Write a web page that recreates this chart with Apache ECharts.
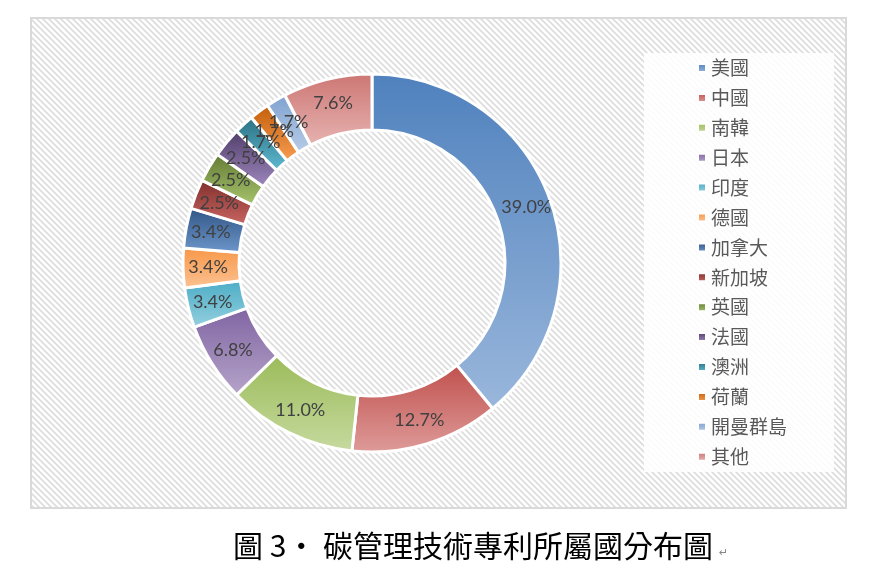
<!DOCTYPE html>
<html>
<head>
<meta charset="utf-8">
<script src="https://cdn.jsdelivr.net/npm/echarts@6/dist/echarts.min.js"></script>
<style>
  html, body { margin: 0; padding: 0; background: #fff; }
  #chart { width: 894px; height: 577px; }
</style>
</head>
<body>
<div id="chart"></div>
<script>
// patent counts per country (percent labels = count / total)
const countries = ['美國', '中國', '南韓', '日本', '印度', '德國', '加拿大', '新加坡', '英國', '法國', '澳洲', '荷蘭', '開曼群島', '其他'];
const counts = [46, 15, 13, 8, 4, 4, 4, 3, 3, 3, 2, 2, 2, 9];
const topColors = ['#4F81BD', '#C0504D', '#9BBB59', '#8064A2', '#4BACC6', '#F79646', '#2F5584', '#7E2E2C', '#627A33', '#4F3D68', '#2A6F82', '#C25E0A', '#7FA2D0', '#CC7673'];
const bottomColors = ['#9AB7DC', '#DE9C9A', '#C6DA9F', '#B6A5CA', '#95D0DF', '#FBC394', '#6E97CC', '#CB6763', '#A8C56E', '#9F88BF', '#5FBBD2', '#F89D52', '#B7CCE7', '#E7B3B1'];
const caption = '圖 3· 碳管理技術專利所屬國分布圖';

const total = counts.reduce((a, b) => a + b, 0);

// hatched background tile
const tile = document.createElement('canvas');
tile.width = 6; tile.height = 6;
const g = tile.getContext('2d');
g.fillStyle = '#ffffff';
g.fillRect(0, 0, 6, 6);
g.strokeStyle = '#dcdcdc';
g.lineWidth = 1.6;
g.beginPath();
g.moveTo(-3, -3); g.lineTo(9, 9);
g.moveTo(-3, 3); g.lineTo(3, 9);
g.moveTo(3, -3); g.lineTo(9, 3);
g.stroke();

const chart = echarts.init(document.getElementById('chart'));

const data = countries.map((name, i) => ({
  name: name,
  value: counts[i],
  itemStyle: {
    color: new echarts.graphic.LinearGradient(0, 0, 0, 1, [
      { offset: 0, color: topColors[i] },
      { offset: 1, color: bottomColors[i] }
    ])
  }
}));

chart.setOption({
  animation: false,
  graphic: [
    {
      type: 'rect',
      shape: { x: 31, y: 18, width: 815, height: 490 },
      style: { fill: { image: tile, repeat: 'repeat' }, stroke: '#d9d9d9', lineWidth: 2 },
      z: 0
    },
    {
      type: 'rect',
      shape: { x: 644, y: 53, width: 190, height: 419 },
      style: { fill: 'rgba(255,255,255,0.88)' },
      z: 1
    }
  ],
  title: {
    text: caption + '{r|↵}',
    left: 228,
    top: 526,
    textStyle: {
      fontFamily: 'Noto Sans CJK TC',
      fontWeight: 'normal',
      fontSize: 30,
      color: '#000',
      rich: {
        r: { fontSize: 11, color: '#888', padding: [14, 0, 0, 6], fontFamily: 'DejaVu Sans' }
      }
    }
  },
  legend: {
    orient: 'vertical',
    left: 692,
    top: 53,
    icon: 'rect',
    itemWidth: 8,
    itemHeight: 8,
    itemGap: 9.9,
    selectedMode: false,
    textStyle: {
      fontFamily: 'Noto Sans CJK TC',
      fontSize: 19,
      lineHeight: 20,
      color: '#595959'
    },
    data: countries
  },
  series: [{
    type: 'pie',
    center: [372, 263],
    radius: [133, 189],
    startAngle: 90,
    clockwise: true,
    avoidLabelOverlap: false,
    minShowLabelAngle: 0,
    itemStyle: { borderColor: '#ffffff', borderWidth: 3 },
    label: {
      show: true,
      position: 'inside',
      fontFamily: 'Lato',
      fontSize: 18,
      color: '#404040',
      formatter: p => (p.value / total * 100).toFixed(1) + '%'
    },
    labelLayout: { hideOverlap: false },
    labelLine: { show: false },
    emphasis: { disabled: true },
    data: data
  }]
});
</script>
</body>
</html>
